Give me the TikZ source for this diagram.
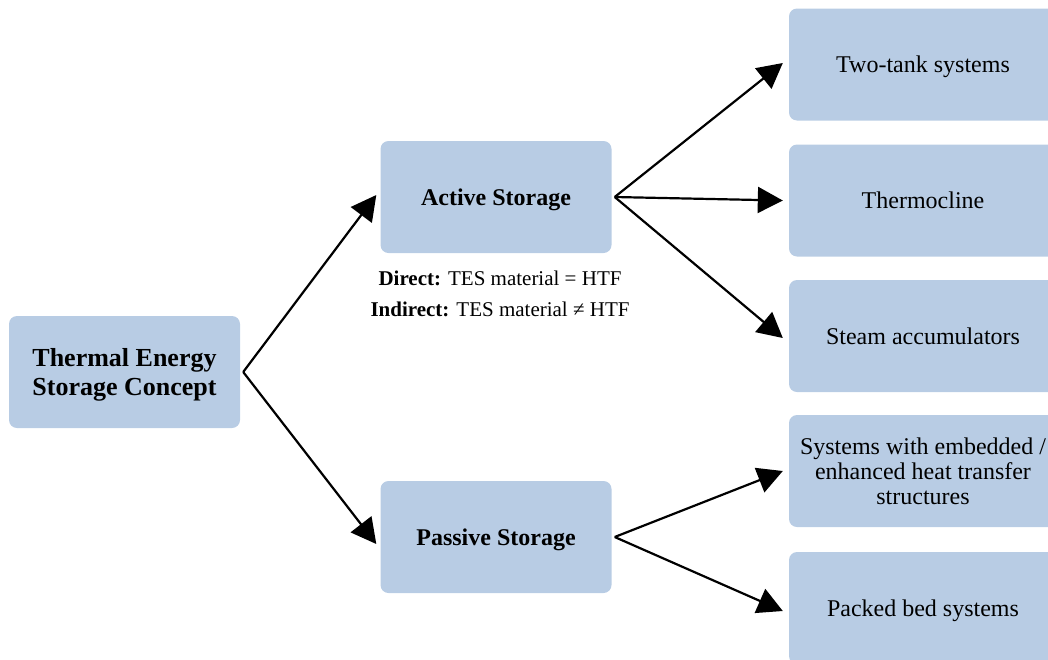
\documentclass[tikz,border=0pt]{standalone}
\usepackage{fontspec}
\setmainfont{Liberation Serif}
\usetikzlibrary{arrows.meta}
\definecolor{boxblue}{HTML}{B8CCE4}
\begin{document}
\begin{tikzpicture}[x=1pt,y=-1pt,
  box/.style={fill=boxblue, rounded corners=8pt, inner sep=0pt, align=center,
    minimum width=231pt, minimum height=112pt, font=\fontsize{24}{25}\selectfont},
  single/.style={text depth=0pt},
  rbox/.style={box, minimum width=268pt},
  arr/.style={-{Triangle[length=25pt,width=26pt]}, line width=2.2pt, line join=miter}]
\useasboundingbox (0,0) rectangle (1048,659);
\clip (0,0) rectangle (1048,659);
\node[box, single, font=\fontsize{26}{29}\selectfont\bfseries] (main) at (124.5,372) {Thermal Energy\\Storage Concept};
\node[box, single, font=\fontsize{24}{25}\selectfont\bfseries] (active) at (496,197) {Active Storage};
\node[box, single, font=\fontsize{24}{25}\selectfont\bfseries] (passive) at (496,537) {Passive Storage};
\node[align=center, font=\fontsize{21}{31}\selectfont] (note) at (500,293.5)
  {\textbf{Direct:} TES material = HTF\\\textbf{Indirect:} TES material ≠ HTF};
\node[rbox, single] (two) at (923,64.5) {Two-tank systems};
\node[rbox, single] (thermo) at (923,200.5) {Thermocline};
\node[rbox, single] (steam) at (923,336) {Steam accumulators};
\node[rbox] (embed) at (923,471) {Systems with embedded /\\enhanced heat transfer\\structures};
\node[rbox, single] (packed) at (923,608) {Packed bed systems};
\coordinate (mo) at ([xshift=3pt]main.east);
\coordinate (ao) at ([xshift=3pt]active.east);
\coordinate (po) at ([xshift=3pt]passive.east);
\draw[arr] (mo) -- ([xshift=-4pt,yshift=2pt]active.west);
\draw[arr] (mo) -- ([xshift=-4pt,yshift=-7pt]passive.west);
\draw[arr] (ao) -- ([xshift=-6pt,yshift=1.5pt]two.west);
\draw[arr] (ao) -- ([xshift=-6pt]thermo.west);
\draw[arr] (ao) -- ([xshift=-6pt,yshift=-2pt]steam.west);
\draw[arr] (po) -- ([xshift=-6pt]embed.west);
\draw[arr] (po) -- ([xshift=-6pt,yshift=-3pt]packed.west);
\end{tikzpicture}
\end{document}
